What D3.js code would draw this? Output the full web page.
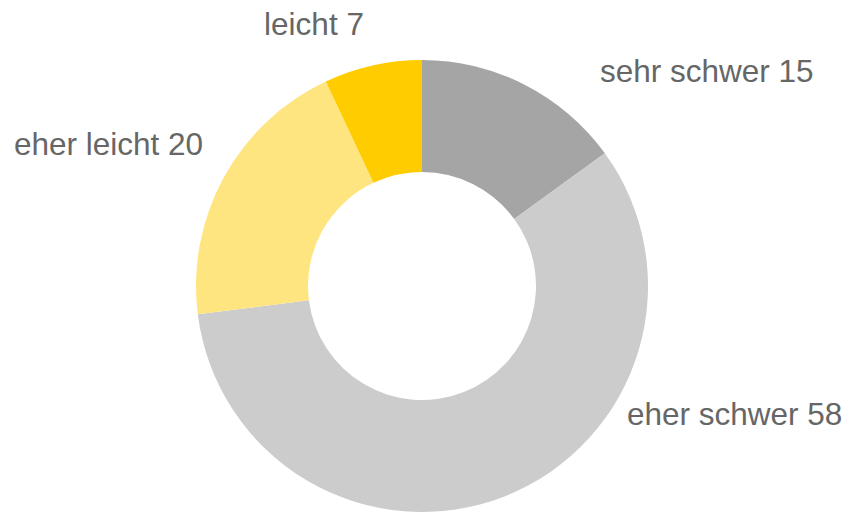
<!DOCTYPE html>
<html>
<head>
<meta charset="utf-8">
<script src="https://cdn.jsdelivr.net/npm/d3@7"></script>
<style>
  body { margin: 0; background: #fff; }
  text { font-family: "Liberation Sans", Arial, sans-serif; }
</style>
</head>
<body>
<div id="chart"></div>
<script>
// data
var categories = ["sehr schwer", "eher schwer", "eher leicht", "leicht"];
var values = [15, 58, 20, 7];
var colors = ["#a5a5a5", "#cccccc", "#ffe580", "#ffcc00"];

// label placement (x, y baseline, anchor) relative to the page
var labelPos = [
  {x: 600, y: 82, anchor: "start"},
  {x: 627, y: 425, anchor: "start"},
  {x: 203, y: 155, anchor: "end"},
  {x: 314, y: 35, anchor: "middle"}
];

var width = 845, height = 512;
var cx = 422, cy = 286, outerR = 226, innerR = 114;

var svg = d3.select("#chart")
  .append("svg")
    .attr("width", width)
    .attr("height", height);

var g = svg.append("g")
    .attr("transform", "translate(" + cx + "," + cy + ")");

var data = categories.map(function(c, i) { return {name: c, value: values[i], color: colors[i]}; });

var pie = d3.pie()
    .sort(null)
    .value(function(d) { return d.value; });

var arc = d3.arc()
    .innerRadius(innerR)
    .outerRadius(outerR);

g.selectAll("path")
  .data(pie(data))
  .enter().append("path")
    .attr("d", arc)
    .attr("fill", function(d) { return d.data.color; });

// labels
svg.selectAll("text.lbl")
  .data(data)
  .enter().append("text")
    .attr("class", "lbl")
    .attr("x", function(d, i) { return labelPos[i].x; })
    .attr("y", function(d, i) { return labelPos[i].y; })
    .attr("text-anchor", function(d, i) { return labelPos[i].anchor; })
    .attr("font-size", "31.5px")
    .attr("fill", "#666666")
    .text(function(d) { return d.name + " " + d.value; });
</script>
</body>
</html>
